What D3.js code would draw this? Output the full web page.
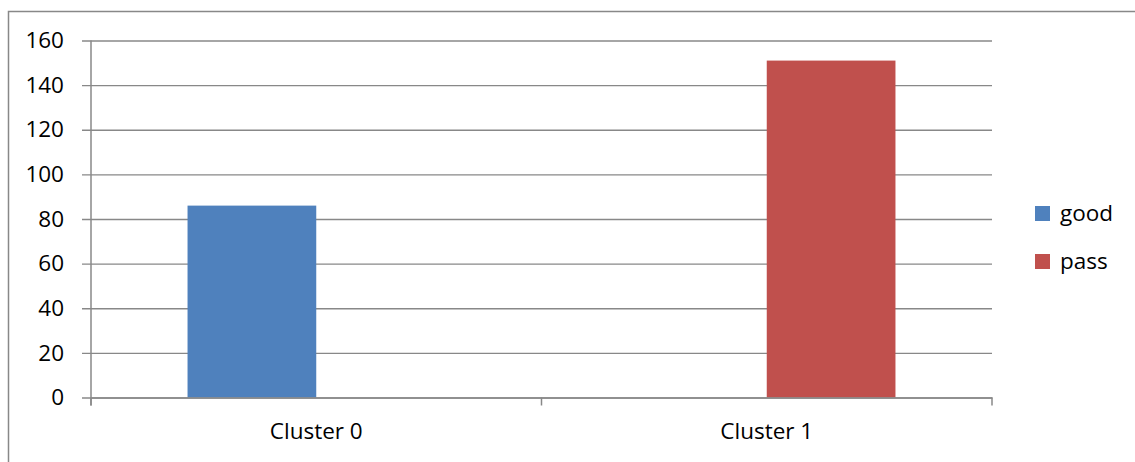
<!DOCTYPE html>
<html>
<head>
<meta charset="utf-8">
<script src="https://cdn.jsdelivr.net/npm/d3@7"></script>
<style>
  html, body { margin: 0; padding: 0; background: #fff; }
  svg { display: block; }
  text { font-family: "Open Sans", "Liberation Sans", sans-serif; fill: #000; }
</style>
</head>
<body>
<script>
const categories = ["Cluster 0", "Cluster 1"];
const seriesNames = ["good", "pass"];
const goodValues = [86, 0];
const passValues = [0, 151];
const yTicks = [0, 20, 40, 60, 80, 100, 120, 140, 160];
const seriesColors = ["#4F81BD", "#C0504D"];

const W = 1135, H = 462;
const svg = d3.select("body").append("svg").attr("width", W).attr("height", H);

// outer chart border (right/bottom fall outside the picture)
svg.append("rect")
  .attr("x", 8.5).attr("y", 11.5)
  .attr("width", W + 20).attr("height", H + 20)
  .attr("fill", "none").attr("stroke", "#888").attr("stroke-width", 1.5);

const plot = { left: 91, right: 992, top: 40.5, bottom: 397.5 };

const y = d3.scaleLinear().domain([0, 160]).range([plot.bottom, plot.top]);
const x = d3.scaleBand().domain(categories).range([plot.left, plot.right]).paddingInner(0).paddingOuter(0);
const xs = d3.scaleBand().domain(seriesNames).range([0, x.bandwidth()]).paddingInner(0).paddingOuter(0.75);

const color = d3.scaleOrdinal().domain(seriesNames).range(seriesColors);

const FONT = "Open Sans, Liberation Sans, sans-serif";

// gridlines + y axis labels
const yAxis = d3.axisLeft(y).tickValues(yTicks).tickSize(-(plot.right - plot.left)).tickPadding(27).tickFormat(d3.format("d"));
const gy = svg.append("g").attr("transform", `translate(${plot.left},0)`).call(yAxis);
gy.select(".domain").remove();
gy.selectAll(".tick line").attr("stroke", "#888").attr("stroke-width", 1.3).attr("x1", -9);
gy.selectAll(".tick text").attr("font-size", 22.5).attr("font-family", FONT).attr("fill", "#000");

// bars
const rows = categories.map((c, i) => ({ cat: c, values: [goodValues[i], passValues[i]] }));
const groups = svg.append("g").selectAll("g").data(rows).join("g")
  .attr("transform", d => `translate(${x(d.cat)},0)`);
groups.selectAll("rect")
  .data(d => d.values.map((v, j) => ({ key: seriesNames[j], value: v })))
  .join("rect")
  .attr("x", d => xs(d.key))
  .attr("width", xs.bandwidth())
  .attr("y", d => y(d.value))
  .attr("height", d => y(0) - y(d.value))
  .attr("fill", d => color(d.key));

// category axis
const xAxis = d3.axisBottom(x).tickSize(0).tickPadding(26);
const gx = svg.append("g").attr("transform", `translate(0,${plot.bottom})`).call(xAxis);
gx.select(".domain").attr("stroke", "#888").attr("stroke-width", 1.5);
gx.selectAll(".tick text").attr("font-size", 22.5).attr("font-family", FONT).attr("fill", "#000");
// boundary tick marks
const boundaries = categories.map(c => x(c)).concat([x.range()[1]]);
gx.selectAll(".bound").data(boundaries).join("line")
  .attr("class", "bound")
  .attr("x1", d => d).attr("x2", d => d)
  .attr("y1", 0).attr("y2", 8)
  .attr("stroke", "#888").attr("stroke-width", 1.5);

// vertical axis line
svg.append("line")
  .attr("x1", plot.left).attr("x2", plot.left)
  .attr("y1", plot.top).attr("y2", plot.bottom + 8)
  .attr("stroke", "#888").attr("stroke-width", 1.5);

// legend
const legend = svg.append("g").attr("transform", "translate(1035,206)");
const li = legend.selectAll("g").data(seriesNames).join("g")
  .attr("transform", (d, i) => `translate(0,${i * 48})`);
li.append("rect").attr("width", 15).attr("height", 15).attr("fill", d => color(d));
li.append("text").attr("x", 25).attr("y", 7.5).attr("dy", "0.35em")
  .attr("font-size", 22.5).attr("font-family", FONT).text(d => d);
</script>
</body>
</html>
